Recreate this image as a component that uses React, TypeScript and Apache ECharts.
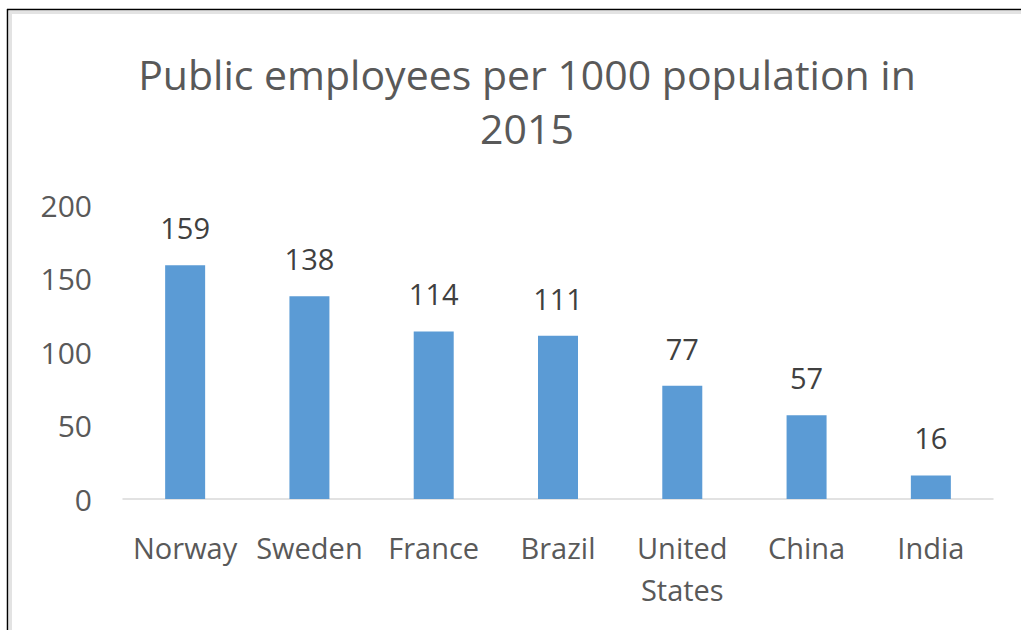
import React, { useEffect, useRef } from "react";
import * as echarts from "echarts";

const titleText = "Public employees per 1000 population in\n2015";
const categories = ["Norway", "Sweden", "France", "Brazil", "United\nStates", "China", "India"];
const values = [159, 138, 114, 111, 77, 57, 16];
const yTicks = { min: 0, max: 200, interval: 50 };

const FONT = "'Open Sans', sans-serif";
const TEXT = "#595959";

export default function App() {
  const ref = useRef<HTMLDivElement>(null);
  useEffect(() => {
    document.body.style.margin = "0";
    const chart = echarts.init(ref.current!, null, { renderer: "svg" });
    chart.setOption({
      animation: false,
      backgroundColor: "#ffffff",
      title: {
        text: titleText,
        left: 522,
        top: 42,
        textAlign: "center",
        textStyle: {
          fontFamily: FONT,
          fontSize: 41,
          fontWeight: "normal",
          color: TEXT,
          lineHeight: 54,
        },
      },
      grid: { left: 123, right: 28, top: 205, bottom: 131, containLabel: false },
      xAxis: {
        type: "category",
        data: categories,
        axisLine: { lineStyle: { color: "#D9D9D9", width: 1.5 } },
        axisTick: { show: false },
        axisLabel: {
          fontFamily: FONT,
          fontSize: 29,
          color: TEXT,
          margin: 27,
          lineHeight: 42,
          interval: 0,
        },
      },
      yAxis: {
        type: "value",
        min: yTicks.min,
        max: yTicks.max,
        interval: yTicks.interval,
        splitLine: { show: false },
        axisLine: { show: false },
        axisTick: { show: false },
        axisLabel: {
          fontFamily: FONT,
          fontSize: 30,
          color: TEXT,
          margin: 31,
        },
      },
      series: [
        {
          type: "bar",
          data: values,
          barWidth: 40,
          itemStyle: { color: "#5B9BD5" },
          label: {
            show: true,
            position: "top",
            distance: 23,
            fontFamily: FONT,
            fontSize: 29,
            color: "#404040",
          },
        },
      ],
      graphic: [
        { type: "rect", shape: { x: 9, y: 11, width: 1012, height: 3 }, style: { fill: "#E3E3E3" }, silent: true },
        { type: "rect", shape: { x: 9, y: 11, width: 3, height: 619 }, style: { fill: "#E3E3E3" }, silent: true },
        { type: "line", shape: { x1: 7, y1: 9.5, x2: 1021, y2: 9.5 }, style: { stroke: "#000", lineWidth: 1.5 }, silent: true },
        { type: "line", shape: { x1: 7.5, y1: 9, x2: 7.5, y2: 630 }, style: { stroke: "#000", lineWidth: 1.5 }, silent: true },
      ],
    });
    return () => chart.dispose();
  }, []);
  return <div ref={ref} style={{ width: 1021, height: 630 }} />;
}
